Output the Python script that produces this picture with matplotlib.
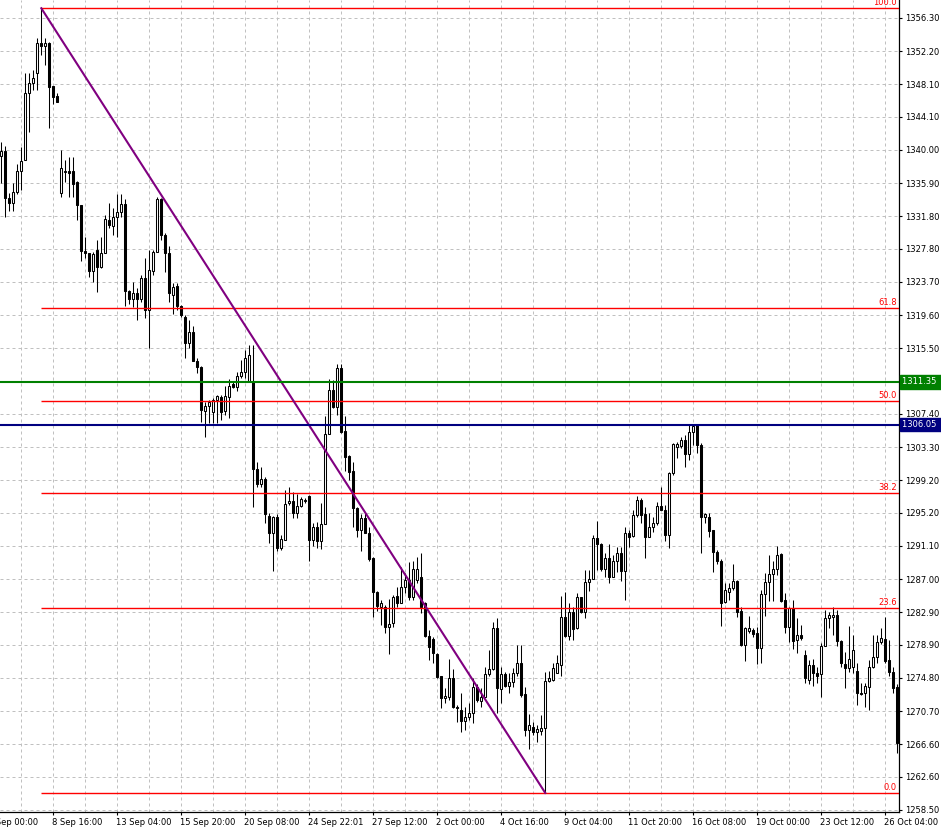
import matplotlib
matplotlib.use('Agg')

import matplotlib.pyplot as plt
from matplotlib.patches import Rectangle

# H4 candles (open, high, low, close)
opens = [1339.3, 1339.9, 1334.1, 1333.4, 1334.8, 1337.4, 1338.8, 1347.0, 1348.3, 1349.5,
         1353.2, 1352.8, 1353.2, 1347.9, 1346.7, 1334.7, 1337.3, 1337.4, 1337.4, 1336.0,
         1333.2, 1327.5, 1327.3, 1325.1, 1327.6, 1325.6, 1327.3, 1331.4, 1330.6, 1331.7,
         1332.3, 1333.3, 1322.6, 1321.6, 1322.3, 1321.6, 1324.2, 1320.2, 1325.1, 1327.4,
         1333.9, 1329.5, 1327.3, 1322.1, 1323.2, 1320.7, 1319.4, 1316.2, 1317.5, 1313.9,
         1313.2, 1307.8, 1308.4, 1307.6, 1309.1, 1309.5, 1307.8, 1309.5, 1311.1, 1310.7,
         1312.1, 1312.6, 1311.5, 1311.3, 1300.6, 1298.8, 1299.4, 1294.8, 1292.7, 1294.7,
         1290.8, 1291.8, 1296.4, 1296.6, 1295.2, 1296.0, 1296.7, 1297.3, 1291.8, 1293.4,
         1291.7, 1293.8, 1304.9, 1310.4, 1308.3, 1313.1, 1305.3, 1302.2, 1300.3, 1295.8,
         1293.1, 1294.5, 1292.7, 1289.6, 1285.4, 1283.6, 1283.6, 1281.1, 1281.6, 1284.9,
         1284.1, 1286.0, 1286.9, 1284.8, 1286.9, 1287.3, 1284.1, 1280.0, 1279.6, 1277.7,
         1275.0, 1272.3, 1272.5, 1274.8, 1271.2, 1270.8, 1269.5, 1270.0, 1270.5, 1273.7,
         1272.0, 1272.5, 1275.3, 1275.9, 1281.0, 1273.4, 1275.3, 1273.8, 1274.3, 1275.4,
         1276.7, 1272.8, 1268.4, 1268.7, 1268.1, 1268.2, 1268.6, 1274.4, 1274.5, 1275.4,
         1276.4, 1282.3, 1280.0, 1283.0, 1281.0, 1284.8, 1283.0, 1286.6, 1287.0, 1292.1,
         1291.3, 1288.3, 1289.6, 1287.3, 1289.3, 1290.2, 1288.0, 1292.7, 1292.3, 1294.9,
         1296.8, 1295.0, 1292.2, 1293.5, 1293.9, 1296.0, 1295.6, 1292.4, 1300.1, 1303.3,
         1303.5, 1304.2, 1302.4, 1305.2, 1306.1, 1303.6, 1294.7, 1294.7, 1293.1, 1290.3,
         1289.3, 1284.2, 1285.4, 1285.9, 1286.8, 1283.1, 1278.9, 1280.6, 1280.7, 1280.3,
         1278.5, 1285.2, 1286.6, 1287.6, 1288.3, 1290.1, 1284.4, 1281.1, 1283.4, 1279.5,
         1280.1, 1277.6, 1274.6, 1276.4, 1275.4, 1275.3, 1278.7, 1282.2, 1282.3, 1282.6,
         1279.4, 1276.5, 1276.0, 1276.2, 1275.7, 1273.0, 1272.9, 1273.7, 1276.2, 1277.4,
         1279.2, 1279.6, 1277.0, 1275.5, 1273.7]
highs = [1341.0, 1340.5, 1334.7, 1335.9, 1338.3, 1340.4, 1349.5, 1349.5, 1349.9, 1353.8,
         1357.5, 1353.8, 1353.3, 1347.9, 1347.0, 1340.0, 1338.8, 1339.1, 1339.1, 1336.2,
         1333.2, 1329.3, 1327.3, 1327.4, 1328.9, 1329.3, 1332.0, 1333.4, 1332.8, 1334.6,
         1334.6, 1333.9, 1322.7, 1323.7, 1322.9, 1324.6, 1326.7, 1327.7, 1327.7, 1334.2,
         1334.1, 1329.7, 1328.1, 1323.6, 1323.6, 1320.9, 1319.6, 1319.0, 1318.3, 1314.3,
         1313.3, 1308.9, 1309.1, 1309.4, 1309.7, 1309.7, 1310.9, 1311.7, 1311.3, 1312.6,
         1314.1, 1315.3, 1315.9, 1315.9, 1301.5, 1300.9, 1299.6, 1295.2, 1294.8, 1295.0,
         1292.4, 1298.0, 1298.4, 1297.8, 1297.5, 1297.1, 1297.0, 1297.4, 1293.9, 1294.1,
         1296.4, 1307.1, 1311.7, 1311.6, 1313.6, 1313.6, 1307.1, 1302.3, 1301.5, 1295.9,
         1295.0, 1295.2, 1293.4, 1289.7, 1285.6, 1284.4, 1283.8, 1284.6, 1285.0, 1286.0,
         1288.5, 1287.8, 1289.1, 1289.2, 1289.7, 1290.2, 1284.2, 1280.7, 1279.9, 1277.9,
         1275.1, 1273.6, 1277.2, 1275.9, 1271.5, 1272.9, 1271.2, 1271.7, 1274.8, 1274.0,
         1273.6, 1276.2, 1278.3, 1281.7, 1282.2, 1276.2, 1275.5, 1275.4, 1276.0, 1278.9,
         1278.9, 1273.7, 1270.4, 1269.4, 1269.0, 1270.2, 1275.5, 1275.7, 1276.6, 1277.6,
         1284.9, 1285.4, 1284.1, 1283.6, 1285.3, 1284.8, 1288.1, 1288.1, 1292.4, 1294.2,
         1291.5, 1290.2, 1291.3, 1290.0, 1291.0, 1291.0, 1293.4, 1293.1, 1295.5, 1297.3,
         1297.0, 1295.9, 1295.2, 1294.7, 1296.5, 1298.4, 1296.1, 1300.2, 1303.8, 1304.0,
         1304.6, 1304.8, 1306.1, 1306.2, 1306.2, 1303.8, 1295.2, 1295.2, 1293.1, 1290.6,
         1289.5, 1286.5, 1286.5, 1288.9, 1286.9, 1283.6, 1281.1, 1282.5, 1281.0, 1281.1,
         1285.7, 1287.8, 1290.0, 1289.3, 1291.1, 1290.2, 1285.3, 1283.6, 1284.4, 1282.2,
         1281.3, 1278.3, 1277.0, 1277.1, 1276.2, 1279.1, 1283.2, 1283.0, 1283.6, 1283.2,
         1279.5, 1278.0, 1281.2, 1280.1, 1276.6, 1274.2, 1274.2, 1277.0, 1280.1, 1280.1,
         1281.0, 1282.3, 1279.5, 1276.2, 1274.0]
lows = [1335.9, 1331.7, 1332.5, 1332.5, 1334.6, 1335.1, 1338.8, 1342.2, 1347.4, 1347.4,
        1351.7, 1350.5, 1342.7, 1345.7, 1345.9, 1334.2, 1336.0, 1334.2, 1334.2, 1331.4,
        1326.3, 1326.7, 1324.3, 1323.7, 1322.5, 1325.4, 1327.3, 1330.4, 1329.5, 1329.3,
        1331.7, 1320.7, 1321.0, 1320.6, 1319.0, 1321.2, 1319.3, 1315.5, 1324.6, 1327.4,
        1328.9, 1324.9, 1321.2, 1319.7, 1320.2, 1319.4, 1314.3, 1315.5, 1313.9, 1312.5,
        1306.4, 1304.6, 1306.3, 1306.3, 1306.3, 1306.7, 1307.3, 1306.9, 1310.6, 1310.2,
        1311.9, 1311.9, 1311.3, 1295.9, 1298.4, 1298.4, 1293.9, 1291.5, 1288.0, 1290.5,
        1290.6, 1291.8, 1296.2, 1294.5, 1294.5, 1295.9, 1296.4, 1289.2, 1291.1, 1290.8,
        1290.7, 1293.8, 1304.9, 1308.1, 1307.3, 1305.0, 1300.4, 1299.2, 1293.4, 1292.2,
        1290.5, 1292.7, 1289.3, 1282.3, 1283.1, 1281.3, 1280.4, 1277.8, 1281.1, 1283.6,
        1284.1, 1285.3, 1284.4, 1284.4, 1286.5, 1282.8, 1279.9, 1277.0, 1276.6, 1274.8,
        1271.1, 1271.7, 1272.1, 1271.1, 1269.4, 1268.1, 1268.4, 1269.6, 1269.2, 1271.8,
        1271.2, 1272.5, 1275.1, 1275.8, 1270.5, 1271.7, 1273.7, 1272.9, 1273.7, 1275.1,
        1272.5, 1267.6, 1266.0, 1267.8, 1266.9, 1267.8, 1260.6, 1274.3, 1274.4, 1275.4,
        1275.1, 1279.9, 1279.5, 1279.5, 1280.9, 1282.8, 1282.2, 1285.5, 1287.0, 1288.1,
        1288.0, 1287.3, 1286.5, 1287.3, 1287.9, 1286.8, 1284.4, 1291.0, 1292.2, 1294.7,
        1293.9, 1289.6, 1292.2, 1292.8, 1293.7, 1295.6, 1291.7, 1290.8, 1299.9, 1302.0,
        1303.2, 1300.9, 1301.7, 1303.6, 1302.6, 1290.2, 1293.9, 1292.2, 1287.9, 1288.9,
        1281.2, 1284.0, 1284.4, 1285.7, 1282.3, 1278.8, 1276.9, 1280.4, 1279.9, 1276.5,
        1276.6, 1282.5, 1284.3, 1284.3, 1287.5, 1284.2, 1280.4, 1279.2, 1278.4, 1277.9,
        1279.5, 1274.2, 1274.0, 1273.8, 1274.2, 1272.5, 1278.7, 1281.0, 1280.1, 1278.7,
        1276.2, 1273.6, 1275.5, 1275.4, 1271.5, 1272.7, 1271.2, 1270.8, 1276.0, 1276.7,
        1279.0, 1276.6, 1275.0, 1273.0, 1265.5]
closes = [1339.9, 1334.1, 1333.4, 1334.8, 1337.4, 1338.6, 1347.0, 1348.3, 1348.9, 1353.2,
          1352.8, 1353.2, 1347.8, 1346.5, 1345.9, 1337.8, 1337.4, 1337.1, 1335.8, 1333.2,
          1327.5, 1327.3, 1325.1, 1327.2, 1325.6, 1327.3, 1331.5, 1330.7, 1331.7, 1332.3,
          1333.3, 1322.6, 1321.6, 1322.3, 1321.6, 1324.2, 1320.2, 1325.2, 1327.4, 1333.9,
          1329.5, 1327.3, 1322.3, 1323.1, 1320.7, 1319.6, 1316.2, 1317.5, 1313.9, 1313.2,
          1307.9, 1308.4, 1308.9, 1309.1, 1309.6, 1307.6, 1309.6, 1310.9, 1310.7, 1312.1,
          1312.6, 1314.3, 1314.7, 1300.6, 1298.8, 1299.4, 1295.0, 1292.7, 1294.7, 1290.8,
          1292.0, 1296.3, 1296.6, 1295.2, 1296.0, 1296.9, 1296.8, 1291.8, 1293.4, 1291.7,
          1293.8, 1304.9, 1310.4, 1308.3, 1313.1, 1305.2, 1302.1, 1300.2, 1295.8, 1293.1,
          1294.5, 1292.7, 1289.5, 1285.4, 1283.7, 1284.1, 1281.1, 1281.5, 1284.8, 1284.1,
          1286.0, 1286.9, 1284.8, 1288.2, 1288.2, 1283.6, 1280.0, 1278.6, 1277.9, 1274.9,
          1272.3, 1272.6, 1274.8, 1271.2, 1271.1, 1269.5, 1270.0, 1270.5, 1273.7, 1272.1,
          1272.5, 1275.3, 1275.9, 1281.0, 1273.6, 1275.3, 1273.8, 1274.3, 1275.4, 1276.7,
          1272.7, 1268.4, 1269.0, 1268.1, 1268.5, 1268.6, 1274.4, 1274.8, 1276.0, 1276.6,
          1282.3, 1280.0, 1283.0, 1280.9, 1284.8, 1283.0, 1286.6, 1287.0, 1292.1, 1291.3,
          1288.3, 1289.6, 1287.3, 1289.3, 1290.2, 1288.0, 1292.7, 1292.2, 1294.9, 1296.8,
          1294.9, 1292.2, 1293.5, 1293.9, 1296.0, 1295.6, 1292.4, 1300.1, 1303.7, 1303.7,
          1304.2, 1302.4, 1305.2, 1305.9, 1303.6, 1294.7, 1295.0, 1293.0, 1290.3, 1289.3,
          1284.1, 1285.7, 1285.9, 1286.8, 1283.0, 1278.9, 1281.0, 1281.0, 1280.2, 1278.5,
          1285.2, 1286.6, 1287.6, 1288.3, 1290.0, 1284.3, 1281.1, 1283.4, 1279.4, 1280.1,
          1279.7, 1274.8, 1276.4, 1275.4, 1275.1, 1278.7, 1282.2, 1282.6, 1282.6, 1279.4,
          1276.6, 1276.0, 1277.2, 1278.3, 1272.9, 1272.8, 1273.8, 1276.2, 1277.4, 1279.2,
          1279.7, 1276.9, 1275.5, 1273.6, 1266.8]

price_ticks = [1258.50, 1262.60, 1266.60, 1270.70, 1274.80, 1278.90, 1282.90, 1287.00,
               1291.10, 1295.20, 1299.20, 1303.30, 1307.40, 1311.45, 1315.50, 1319.60,
               1323.70, 1327.80, 1331.80, 1335.90, 1340.00, 1344.10, 1348.10, 1352.20,
               1356.30]
hidden_tick = 1311.45   # covered by the green price label

date_labels = ['5 Sep 00:00', '8 Sep 16:00', '13 Sep 04:00', '15 Sep 20:00',
               '20 Sep 08:00', '24 Sep 22:01', '27 Sep 12:00', '2 Oct 00:00',
               '4 Oct 16:00', '9 Oct 04:00', '11 Oct 20:00', '16 Oct 08:00',
               '19 Oct 00:00', '23 Oct 12:00', '26 Oct 04:00']
first_label_bar = -3
bars_per_label = 16

fib_levels = [0.0, 23.6, 38.2, 50.0, 61.8, 100.0]
swing_high_bar = 10
swing_low_bar = 136
green_level = 1311.35
blue_level = 1306.05

W, H = 941, 832
fig = plt.figure(figsize=(W / 100, H / 100), dpi=100)
ax = fig.add_axes([0, 1 - 812 / H, 899 / W, 812 / H])

n = len(opens)
xmin, xmax = -0.33, n - 0.57
ax.set_xlim(xmin, xmax)
ax.set_ylim(1258.25, 1358.52)

# grid (dashed, every 8 bars / every price tick)
for g in range(first_label_bar + 8, n, 8):
    ax.axvline(g, color='#c0c0c0', lw=0.72, ls=(0, (3, 3)), zorder=0)
for p in price_ticks:
    ax.axhline(p, color='#c0c0c0', lw=0.72, ls=(0, (3, 3)), zorder=0)

# candles
for i in range(n):
    o, h, l, c = opens[i], highs[i], lows[i], closes[i]
    ax.vlines(i, l, h, color='black', lw=0.75, zorder=2)
    fc = 'white' if c >= o else 'black'
    ax.add_patch(Rectangle((i - 0.27, min(o, c)), 0.54, abs(c - o),
                           fc=fc, ec='black', lw=0.75, zorder=3))

# fibonacci retracement
hi = highs[swing_high_bar]
lo = lows[swing_low_bar]
for lev in fib_levels:
    p = lo + (hi - lo) * lev / 100.0
    ax.plot([swing_high_bar, xmax], [p, p], color='#ff0000', lw=1.0, zorder=4,
            solid_capstyle='butt')
    ax.text(xmax - 0.5, p + 0.12, '%.1f' % lev, color='#ff0000', fontsize=6,
            ha='right', va='bottom', zorder=6)

# trend line
ax.plot([swing_high_bar, swing_low_bar], [hi, lo], color='#800080', lw=1.5, zorder=5)

# horizontal levels
ax.axhline(green_level, color='#008000', lw=1.5, zorder=5)
ax.axhline(blue_level, color='#000080', lw=1.5, zorder=5)

# axes styling
for s in ['top', 'left']:
    ax.spines[s].set_visible(False)
for s in ['right', 'bottom']:
    ax.spines[s].set_linewidth(0.9)

ax.yaxis.tick_right()
ax.set_yticks(price_ticks)
ax.set_yticklabels(['' if p == hidden_tick else '%.2f' % p for p in price_ticks])
ax.tick_params(axis='y', length=2.5, width=0.8, pad=2, labelsize=6)

label_bars = [first_label_bar + bars_per_label * j for j in range(len(date_labels))]
ax.set_xticks([b for b in label_bars if b > xmin])
ax.set_xticklabels([])
ax.tick_params(axis='x', length=2.5, width=0.8)
xtr = ax.get_xaxis_transform()
for b, lab in zip(label_bars, date_labels):
    ax.text(b - 0.4, -0.013, lab, transform=xtr, ha='left', va='center',
            fontsize=6, clip_on=False)

# price tags on the right axis
ytr = ax.get_yaxis_transform()
for lev, col in [(green_level, '#008000'), (blue_level, '#000080')]:
    ax.text(1.003, lev, '%.2f ' % lev, transform=ytr, ha='left', va='center',
            color='white', fontsize=6, clip_on=False, zorder=10,
            bbox=dict(boxstyle='square,pad=0.25', fc=col, ec=col))

fig.savefig('out.png', dpi=100)
